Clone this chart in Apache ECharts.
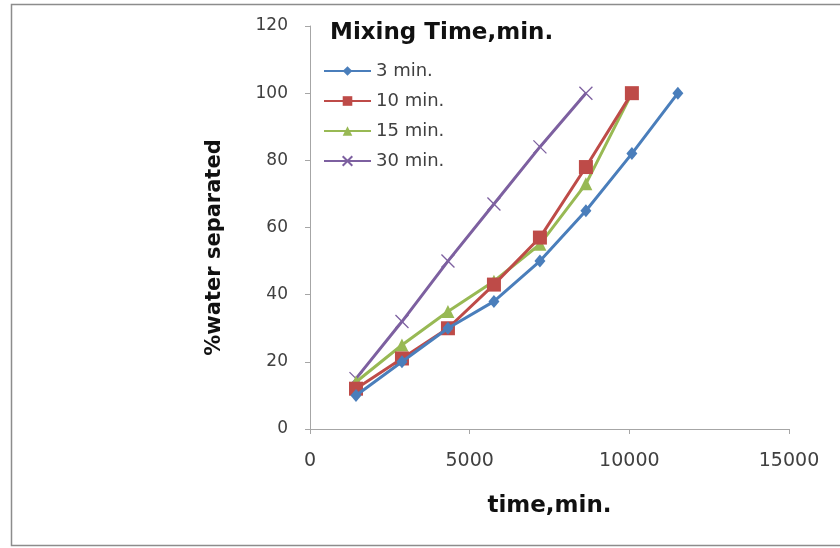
<!DOCTYPE html>
<html><head><meta charset="utf-8">
<script src="https://cdn.jsdelivr.net/npm/echarts@6/dist/echarts.min.js"></script>
<style>html,body{margin:0;padding:0;background:#fff}#c{width:840px;height:548px}</style>
</head><body><div id="c"></div>
<script>
const timeMin = [1440, 2880, 4320, 5760, 7200, 8640, 10080, 11520];
const min3  = [10, 20, 30, 38, 50, 65, 82, 100];
const min10 = [12, 21, 30, 43, 57, 78, 100];
const min15 = [14, 25, 35, 44, 55, 73, 100];
const min30 = [15, 32, 50, 67, 84, 100];
const seriesNames = ['3 min.', '10 min.', '15 min.', '30 min.'];
const xTicks = [0, 5000, 10000, 15000];
const yTicks = [0, 20, 40, 60, 80, 100, 120];

const pair = v => v.map((y, i) => [timeMin[i], y]);
const crossPath = 'path://M0,0L10,10M10,0L0,10';
const colors = ['#4A7EBB', '#BE4B48', '#98B954', '#7D60A0'];
const symbols = ['diamond', 'rect', 'triangle', crossPath];
const sizes = [[11, 13], 14, 13, 13];
const datas = [min3, min10, min15, min30];

const series = datas.map((d, i) => ({
  name: seriesNames[i],
  type: 'line',
  data: pair(d),
  symbol: symbols[i],
  symbolSize: sizes[i],
  showAllSymbol: true,
  lineStyle: { color: colors[i], width: 3 },
  itemStyle: i === 3 ? { color: 'none', borderColor: colors[i], borderWidth: 1.3 } : { color: colors[i], borderWidth: 0 },
  z: 10 - i,
  animation: false
}));

const chart = echarts.init(document.getElementById('c'), null, { renderer: 'canvas' });
chart.setOption({
  animation: false,
  backgroundColor: '#fff',
  grid: { left: 310, right: 51, top: 26, bottom: 119, containLabel: false },
  xAxis: {
    type: 'value', min: xTicks[0], max: xTicks[xTicks.length - 1], interval: 5000,
    name: 'time,min.', nameLocation: 'middle', nameGap: 66,
    nameTextStyle: { fontFamily: 'DejaVu Sans', fontWeight: 'bold', fontSize: 23, color: '#111' },
    axisLine: { lineStyle: { color: '#a6a6a6', width: 1 } },
    axisTick: { show: true, length: 5, lineStyle: { color: '#a6a6a6' } },
    axisLabel: { fontFamily: 'DejaVu Sans', fontSize: 19, color: '#404040', margin: 23,
      formatter: v => String(v) },
    splitLine: { show: false }
  },
  yAxis: {
    type: 'value', min: yTicks[0], max: yTicks[yTicks.length - 1], interval: 20,
    name: '%water separated', nameLocation: 'middle', nameGap: 85, nameRotate: 90,
    nameTextStyle: { fontFamily: 'DejaVu Sans', fontWeight: 'bold', fontSize: 21, color: '#111',
      padding: [0, 40, 0, 0] },
    axisLine: { show: true, lineStyle: { color: '#a6a6a6', width: 1 } },
    axisTick: { show: true, length: 5, lineStyle: { color: '#a6a6a6' } },
    axisLabel: { fontFamily: 'DejaVu Sans', fontSize: 17, color: '#404040', margin: 22 },
    splitLine: { show: false }
  },
  legend: {
    orient: 'vertical', left: 323, top: 61, itemGap: 10, padding: 0,
    itemWidth: 47, itemHeight: 12,
    data: seriesNames,
    textStyle: { fontFamily: 'DejaVu Sans', fontSize: 18, lineHeight: 20, color: '#404040' }
  },
  title: {
    text: 'Mixing Time,min.', left: 325, top: 17,
    textStyle: { fontFamily: 'DejaVu Sans', fontWeight: 'bold', fontSize: 23, color: '#111' }
  },
  graphic: [{
    type: 'rect', shape: { x: 11.5, y: 4.5, width: 900, height: 541 },
    style: { fill: 'none', stroke: '#8c8c8c', lineWidth: 1.5 }, silent: true, z: -1
  }],
  series: series
});
</script></body></html>
